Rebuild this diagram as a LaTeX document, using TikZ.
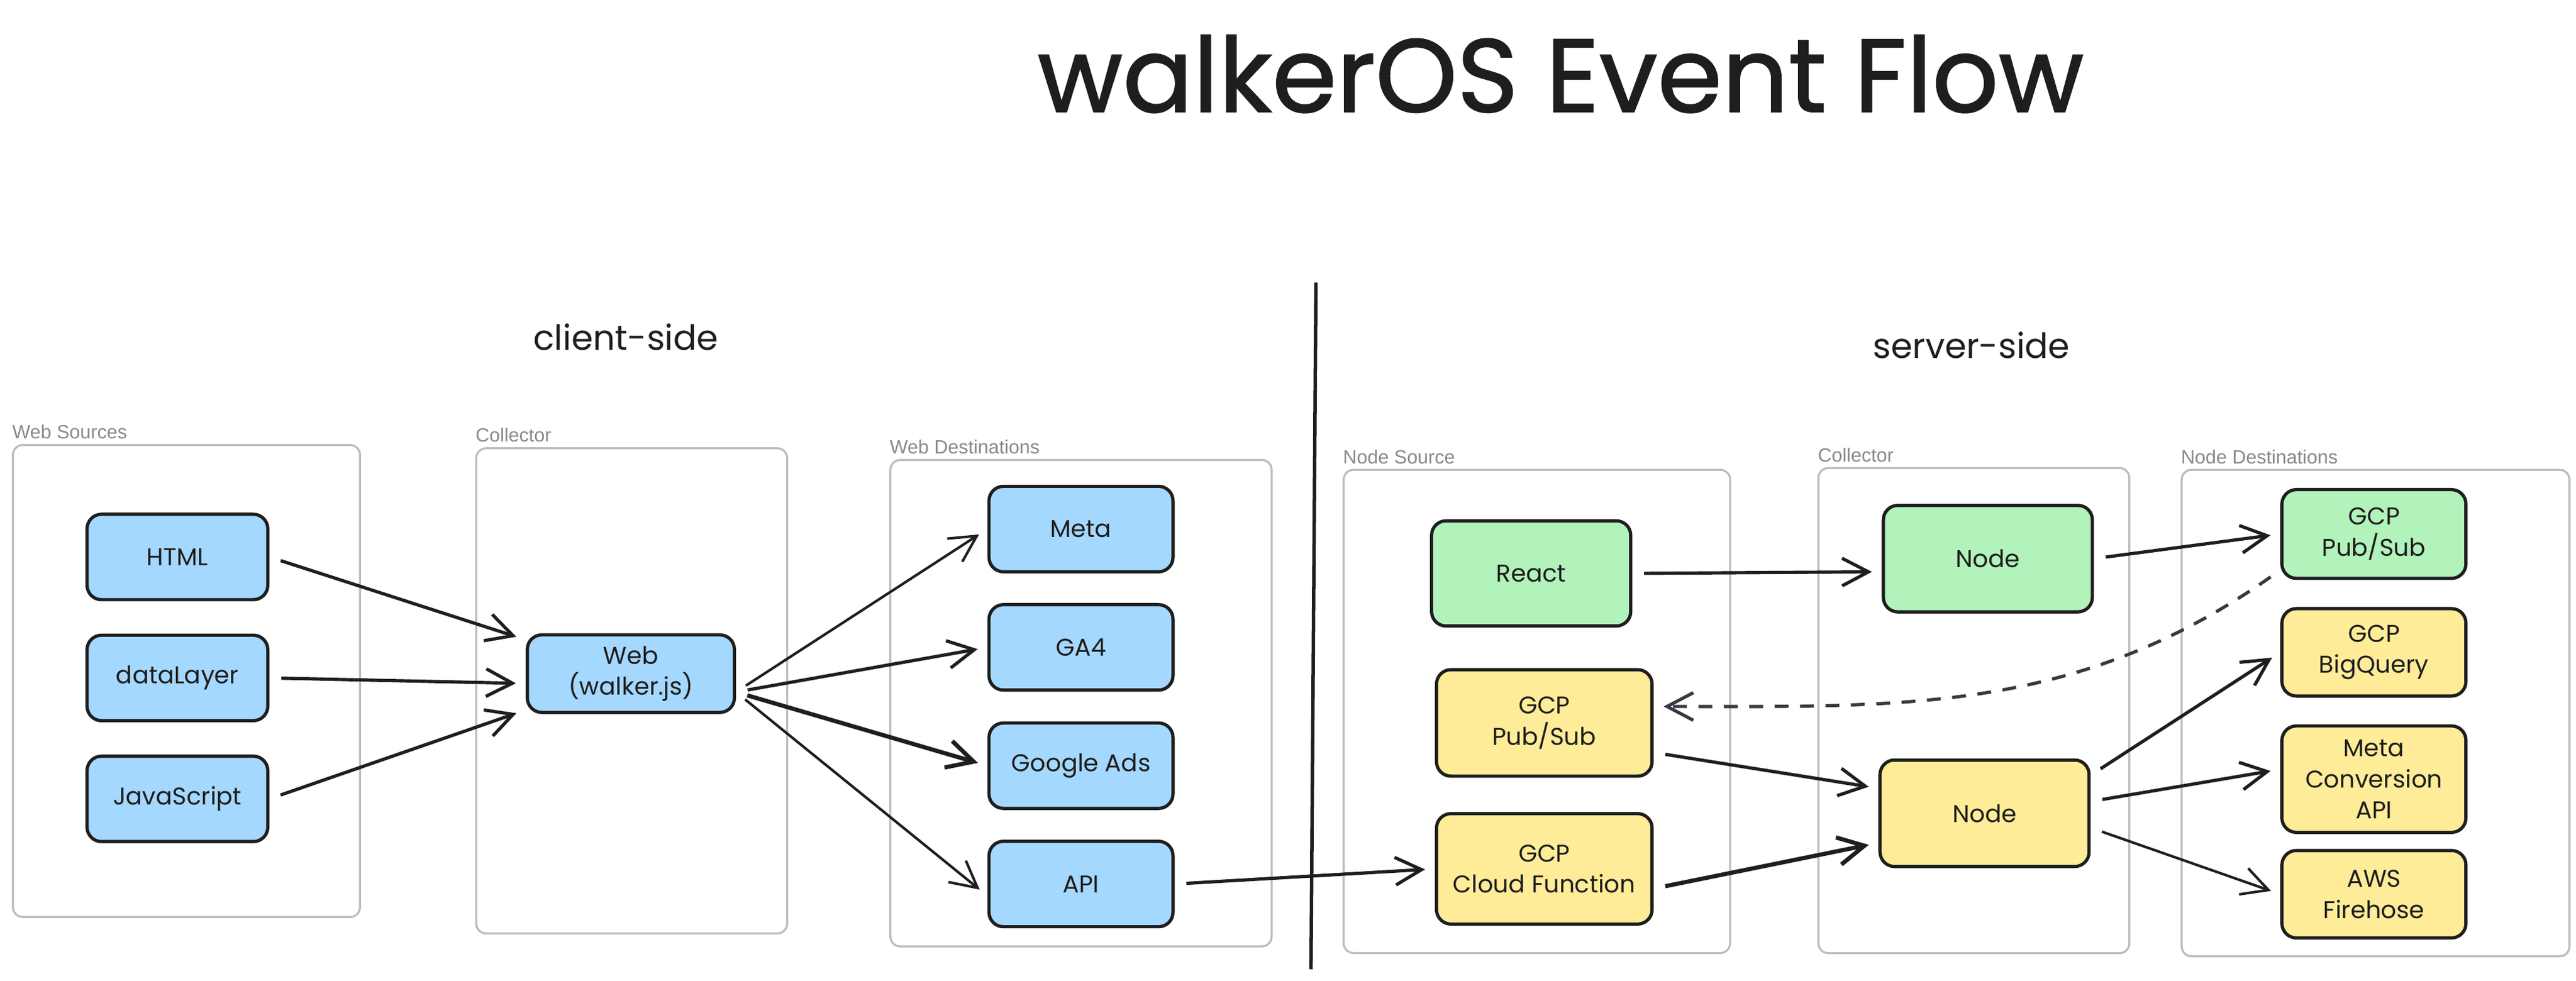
\documentclass[tikz,border=0pt]{standalone}
\usepackage{fontspec}
\setmainfont{Poppins}
\newfontfamily\titlefont[FakeBold=1.2]{Poppins}
\newfontfamily\labelfont{Liberation Sans}
\usetikzlibrary{shapes, arrows.meta, positioning}
\definecolor{bluefill}{HTML}{A5D8FF}
\definecolor{greenfill}{HTML}{B2F2BB}
\definecolor{yellowfill}{HTML}{FFEC99}
\definecolor{ink}{HTML}{1E1E1E}
\definecolor{framegray}{HTML}{BDBDBD}
\definecolor{labelgray}{HTML}{8A8A8A}
\definecolor{dashgray}{HTML}{343A40}
\tikzstyle{cell} = [rectangle, rounded corners=0.22cm, draw=ink, line width=1.4pt, text=ink, align=center, minimum width=2.8cm, minimum height=1.3cm, font=\fontsize{10.5}{13.5}\selectfont]
\tikzstyle{bcell} = [cell, fill=bluefill]
\tikzstyle{gcell} = [cell, fill=greenfill]
\tikzstyle{ycell} = [cell, fill=yellowfill]
\tikzstyle{group} = [rectangle, rounded corners=0.15cm, draw=framegray, line width=0.9pt]
\tikzstyle{glabel} = [anchor=south west, inner xsep=0pt, inner ysep=2pt, text=labelgray, font=\labelfont\fontsize{8.3}{9}\selectfont]
\tikzstyle{line} = [draw=ink, line width=1.4pt, -{Straight Barb[length=0.4cm, width=0.42cm]}, shorten >=0.15cm, shorten <=0.18cm]
\tikzstyle{dline} = [line, draw=dashgray, dash pattern=on 6pt off 5pt]

\begin{document}
\begin{tikzpicture}[x=0.025cm, y=-0.025cm]
    \path[use as bounding box, fill=white] (0,0) rectangle (1568,597);

    \node[font=\titlefont\fontsize{45}{50}\selectfont, text=ink] (title) at (950,45) {walkerOS Event Flow};
    \node[font=\fontsize{15}{18}\selectfont, text=ink] (client) at (381,205) {client-side};
    \node[font=\fontsize{15}{18}\selectfont, text=ink] (server) at (1200,210) {server-side};

    % frames
    \node[group, minimum width=5.28cm, minimum height=7.18cm, label={[glabel]north west:Web Sources}] (websrc) at (113.5,414.5) {};
    \node[group, minimum width=4.73cm, minimum height=7.38cm, label={[glabel]north west:Collector}] (webcoll) at (384.5,420.5) {};
    \node[group, minimum width=5.8cm, minimum height=7.4cm, label={[glabel]north west:Web Destinations}] (webdest) at (658,428) {};
    \node[group, minimum width=5.88cm, minimum height=7.35cm, label={[glabel]north west:Node Source}] (nodesrc) at (935.5,433) {};
    \node[group, minimum width=4.73cm, minimum height=7.38cm, label={[glabel]north west:Collector}] (nodecoll) at (1201.5,432.5) {};
    \node[group, minimum width=5.9cm, minimum height=7.4cm, label={[glabel]north west:Node Destinations}] (nodedest) at (1446,434) {};

    \draw[ink, line width=1.5pt] (801,172) -- (798,590);

    % client-side
    \node[bcell, minimum width=2.75cm](html) at (108,339){HTML};
    \node[bcell, minimum width=2.75cm, below of=html, node distance=1.84cm](datalayer){dataLayer};
    \node[bcell, minimum width=2.75cm, below of=datalayer, node distance=1.84cm](javascript){JavaScript};
    \node[bcell, minimum width=3.15cm, minimum height=1.18cm](web) at (384,410){Web\\(walker.js)};
    \node[bcell](meta) at (658,322){Meta};
    \node[bcell, below of=meta, node distance=1.8cm](ga4){GA4};
    \node[bcell, below of=ga4, node distance=1.8cm](gads){Google Ads};
    \node[bcell, below of=gads, node distance=1.8cm](api){API};

    % server-side
    \node[gcell, minimum width=3.03cm, minimum height=1.6cm](react) at (932,349){React};
    \node[ycell, minimum width=3.28cm, minimum height=1.62cm](pubsubL) at (940,440){GCP\\Pub/Sub};
    \node[ycell, minimum width=3.28cm, minimum height=1.68cm, below of=pubsubL, node distance=2.22cm](cloudfn){GCP\\Cloud Function};
    \node[gcell, minimum width=3.18cm, minimum height=1.62cm](nodeG) at (1210,340){Node};
    \node[ycell, minimum width=3.18cm, minimum height=1.62cm](nodeY) at (1208,495){Node};
    \node[gcell, minimum height=1.35cm](pubsubR) at (1445,325){GCP\\Pub/Sub};
    \node[ycell, minimum height=1.33cm, below of=pubsubR, node distance=1.8cm](bigquery){GCP\\BigQuery};
    \node[ycell, minimum height=1.62cm, below of=bigquery, node distance=1.93cm](metacapi){Meta\\Conversion\\API};
    \node[ycell, minimum height=1.33cm, below of=metacapi, node distance=1.75cm](firehose){AWS\\Firehose};

    \path[line] (html.east) -- (web);
    \path[line] (datalayer.east) -- ([yshift=-0.15cm]web.west);
    \path[line] (javascript.east) -- (web);

    \path[line, line width=1.1pt] ([yshift=-0.28cm]web.east) -- (meta.west);
    \path[line] ([yshift=-0.28cm]web.east) -- (ga4.west);
    \path[line, line width=1.8pt] ([yshift=-0.28cm]web.east) -- (gads.west);
    \path[line, line width=1.1pt] ([yshift=-0.28cm]web.east) -- ([yshift=-0.18cm]api.west);

    \path[line] (api.east) -- (cloudfn.west);
    \path[line] (react.east) -- ([yshift=-0.2cm]nodeG.west);
    \path[line] ([yshift=-0.45cm]pubsubL.east) -- ([yshift=0.38cm]nodeY.west);
    \path[line, line width=1.8pt] ([yshift=-0.3cm]cloudfn.east) -- ([yshift=-0.45cm]nodeY.west);

    \path[line] (nodeG.east) -- (pubsubR.west);
    \path[line] ([yshift=0.58cm]nodeY.east) -- (bigquery.west);
    \path[line] ([yshift=0.18cm]nodeY.east) -- ([yshift=0.15cm]metacapi.west);
    \path[line, line width=1.1pt] ([yshift=-0.22cm]nodeY.east) -- (firehose.west);

    \path[dline] ([yshift=-0.55cm]pubsubR.west) to[out=215, in=0] ([yshift=0.25cm]pubsubL.east);
\end{tikzpicture}
\end{document}
